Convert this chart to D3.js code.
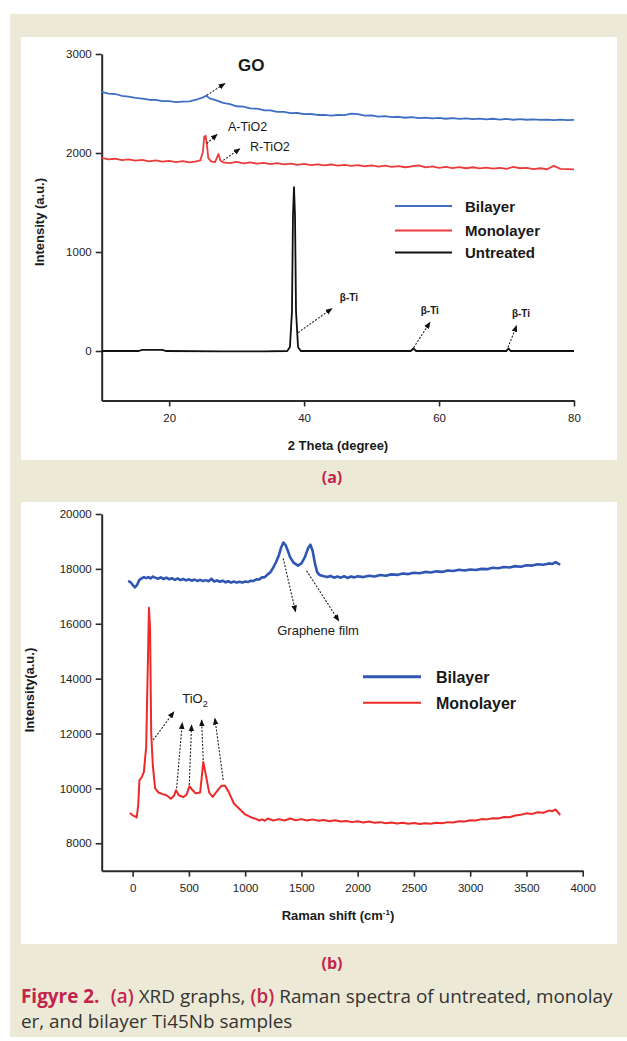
<!DOCTYPE html>
<html>
<head>
<meta charset="utf-8">
<script src="https://cdn.jsdelivr.net/npm/d3@7/dist/d3.min.js"></script>
<style>
  body { margin: 0; background: #fff; }
  svg { display: block; }
</style>
</head>
<body>
<main></main>
<script>
// ---- datos (a) XRD ----
const xrdSeries = ['Bilayer', 'Monolayer', 'Untreated'];
const xrdColors = ['#3d6ec4', '#ec3b3b', '#111111'];

const bilayerXRD = [[10,2618],[11,2600],[12,2596],[13,2578],[14,2570],[15,2556],[16,2550],[17,2538],[18,2536],[19,2524],
  [20,2524],[21,2514],[22,2518],[23,2522],[24,2538],[25,2562],[25.5,2578],[26,2552],[27,2532],[28,2506],[29,2494],
  [30,2472],[31,2468],[32,2450],[33,2448],[34,2432],[35,2430],[36,2416],[37,2416],[38,2402],[39,2404],[40,2392],
  [41,2394],[42,2384],[43,2386],[44,2378],[45,2384],[46,2382],[47,2398],[48,2392],[49,2378],[50,2380],[51,2368],
  [52,2372],[53,2362],[54,2366],[55,2356],[56,2362],[57,2352],[58,2358],[59,2350],[60,2354],[61,2346],[62,2352],
  [63,2344],[64,2350],[65,2342],[66,2348],[67,2340],[68,2346],[69,2338],[70,2344],[71,2336],[72,2342],[73,2336],
  [74,2340],[75,2334],[76,2338],[77,2332],[78,2338],[79,2332],[80,2334]];

const monolayerXRD = [[10,1950],[11,1935],[12,1942],[13,1928],[14,1936],[15,1922],[16,1930],[17,1915],[18,1926],
  [19,1912],[20,1920],[21,1908],[22,1918],[23,1905],[24,1915],[24.6,1925],[25,2010],[25.2,2165],[25.4,2175],
  [25.6,2080],[25.8,1950],[26.2,1915],[26.8,1908],[27.3,1990],[27.6,1925],[28,1905],[29,1898],[30,1910],[31,1895],
  [32,1905],[33,1892],[34,1900],[35,1888],[36,1898],[37,1885],[38,1893],[39,1880],[40,1890],[41,1878],[42,1886],
  [43,1875],[44,1884],[45,1872],[46,1880],[47,1870],[48,1878],[49,1866],[50,1874],[51,1862],[52,1872],[53,1860],
  [54,1868],[55,1856],[56,1866],[57,1874],[58,1854],[59,1864],[60,1850],[61,1860],[62,1848],[63,1858],[64,1846],
  [65,1856],[66,1844],[67,1852],[68,1842],[69,1850],[70,1840],[71,1860],[72,1846],[73,1850],[74,1838],[75,1846],
  [76,1836],[77,1870],[78,1840],[79,1838],[80,1835]];

const untreatedXRD = [[10,0],[15.5,0],[16,12],[19,12],[19.5,0],[28,-4],[34,-4],[37.5,0],[37.9,40],[38.2,400],
  [38.35,1370],[38.5,1655],[38.65,1370],[38.8,400],[39.1,40],[39.5,0],[55.8,0],[56.2,25],[56.6,0],[70,0],
  [70.3,25],[70.6,0],[80,0]];

const xrdXTicks = [20, 40, 60, 80];
const xrdXMinor = [30, 50, 70];
const xrdYTicks = [0, 1000, 2000, 3000];
const xrdYMinor = [500, 1500, 2500];

// etiquetas con flechas: [texto, desde x, desde y, hasta x, hasta y, texto x, texto y]
const xrdNotes = [
  ['GO', 25.56, 2583, 28.27, 2702, 30.2, 2826],
  ['A-TiO2', 25.56, 2095, 27.13, 2189, 28.72, 2219],
  ['R-TiO2', 28.02, 1926, 30.5, 2044, 31.98, 2020],
  ['β-Ti', 39.1, 186, 44.13, 429, 45.3, 510],
  ['β-Ti', 55.95, 4, 58.66, 290, 57.28, 373],
  ['β-Ti', 70.03, 4, 71.5, 257, 70.8, 348]
];

// ---- datos (b) Raman ----
const ramanSeries = ['Bilayer', 'Monolayer'];
const ramanColors = ['#2f56b3', '#ec2a2a'];

const bilayerRaman = [[-40,17560],[-20,17520],[0,17420],[20,17330],[40,17420],[60,17600],[80,17650],[100,17700],
  [120,17660],[140,17700],[160,17650],[180,17720],[200,17680],[225,17640],[250,17690],[275,17630],[300,17680],
  [325,17620],[350,17660],[375,17600],[400,17650],[425,17590],[450,17630],[475,17580],[500,17620],[525,17570],
  [550,17610],[575,17560],[600,17600],[625,17560],[650,17590],[675,17550],[700,17640],[725,17540],[750,17580],
  [775,17530],[800,17570],[825,17510],[850,17550],[875,17500],[900,17540],[925,17500],[950,17530],[975,17500],
  [1000,17540],[1025,17520],[1050,17570],[1075,17560],[1100,17620],[1125,17610],[1150,17690],[1175,17700],
  [1200,17800],[1225,17880],[1250,18050],[1275,18250],[1300,18500],[1320,18780],[1340,18960],[1360,18860],
  [1380,18650],[1400,18420],[1430,18230],[1470,18120],[1500,18200],[1530,18420],[1560,18760],[1580,18880],
  [1600,18650],[1620,18200],[1640,17880],[1660,17780],[1700,17730],[1730,17700],[1760,17740],[1790,17680],
  [1820,17720],[1850,17680],[1880,17730],[1910,17670],[1940,17720],[1970,17690],[2000,17730],[2050,17700],
  [2100,17750],[2150,17720],[2200,17780],[2250,17750],[2300,17800],[2350,17780],[2400,17830],[2450,17810],
  [2500,17860],[2550,17840],[2600,17890],[2650,17870],[2700,17910],[2750,17890],[2800,17940],[2850,17920],
  [2900,17970],[2950,17940],[3000,17980],[3050,17960],[3100,18000],[3150,17990],[3200,18040],[3250,18020],
  [3300,18070],[3350,18050],[3400,18100],[3450,18080],[3500,18130],[3550,18120],[3600,18170],[3650,18150],
  [3700,18200],[3730,18180],[3760,18250],[3800,18150]];

const monolayerRaman = [[-25,9100],[0,9020],[20,8980],[36,8940],[50,9400],[60,10300],[80,10400],[100,10600],
  [120,11500],[135,14500],[145,16580],[155,15800],[165,12000],[180,10800],[200,10000],[230,9850],[260,9800],
  [300,9750],[340,9620],[370,9750],[385,9930],[410,9750],[450,9680],[480,9780],[505,10080],[530,9950],[560,9820],
  [600,9850],[628,10960],[650,10500],[680,9850],[711,9690],[750,9900],[790,10100],[820,10100],[850,9900],
  [900,9450],[950,9250],[1000,9050],[1050,8950],[1100,8880],[1125,8830],[1150,8870],[1175,8820],[1200,8900],
  [1250,8830],[1300,8880],[1350,8830],[1400,8900],[1450,8840],[1500,8880],[1550,8830],[1600,8870],[1650,8820],
  [1700,8850],[1750,8800],[1800,8840],[1850,8790],[1900,8810],[1950,8770],[2000,8800],[2050,8760],[2100,8790],
  [2150,8750],[2200,8770],[2250,8730],[2300,8760],[2350,8720],[2400,8750],[2450,8710],[2500,8740],[2550,8700],
  [2600,8730],[2650,8710],[2700,8750],[2750,8730],[2800,8770],[2850,8760],[2900,8800],[2950,8790],[3000,8840],
  [3050,8830],[3100,8880],[3150,8870],[3200,8910],[3250,8900],[3300,8960],[3350,8950],[3400,9010],[3450,9040],
  [3500,9090],[3550,9070],[3600,9130],[3650,9110],[3700,9190],[3730,9170],[3760,9230],[3800,9030]];

const ramanXTicks = [0, 500, 1000, 1500, 2000, 2500, 3000, 3500, 4000];
const ramanXMinor = [250, 750, 1250, 1750, 2250, 2750, 3250, 3750];
const ramanYTicks = [8000, 10000, 12000, 14000, 16000, 18000, 20000];
const ramanYMinor = [9000, 11000, 13000, 15000, 17000, 19000];

// flechas: [desde x, desde y, hasta x, hasta y]
const grapheneArrows = [[1338, 18385, 1448, 16439], [1546, 17933, 1833, 16100]];
const tioArrows = [[183, 11763, 367, 12794], [391, 10003, 441, 12394], [503, 10123, 524, 12310],
  [627, 11034, 613, 12492], [805, 10305, 731, 12554]];

// pie de figura: [texto, color, peso]
const captionLine1 = [['Figyre 2.', 'c', 'bold'], ['(a)', 'c', '600'], ['XRD graphs,', 'g', 'normal'],
  ['(b)', 'c', '600'], ['Raman spectra of untreated, monolay', 'g', 'normal']];
const captionLine2 = 'er, and bilayer Ti45Nb samples';

// ---- lienzo ----
const w = 627, h = 1041;
const font = "'Liberation Sans', Arial, sans-serif";
const capFont = "'Open Sans', sans-serif";
const crimson = '#c4234b';

const svg = d3.select('main').append('svg')
  .attr('width', w)
  .attr('height', h)
  .style('font-family', font);

svg.append('defs').append('marker')
  .attr('id', 'arr')
  .attr('viewBox', '0 0 10 10')
  .attr('refX', 9).attr('refY', 5)
  .attr('markerWidth', 7).attr('markerHeight', 7)
  .attr('markerUnits', 'userSpaceOnUse')
  .attr('orient', 'auto')
  .append('path').attr('d', 'M0,1 L10,5 L0,9 z').attr('fill', '#111');

svg.append('rect').attr('x', 10).attr('y', 14).attr('width', 617).attr('height', 1023).attr('fill', '#ecead7');
svg.append('rect').attr('x', 21).attr('y', 37).attr('width', 596).attr('height', 423).attr('fill', '#fff');
svg.append('rect').attr('x', 21).attr('y', 502).attr('width', 596).attr('height', 442).attr('fill', '#fff');

// dibuja ejes con marcas mayores y menores
function drawAxes(x, y, opt) {
  const gx = svg.append('g').attr('transform', `translate(0,${y.range()[0]})`);
  gx.call(d3.axisBottom(x).tickValues(opt.xMinor).tickSize(4).tickSizeOuter(0).tickFormat(''));
  gx.call(d3.axisBottom(x).tickValues(opt.xTicks).tickSize(6).tickSizeOuter(0).tickPadding(7).tickFormat(d3.format('d')));
  const gy = svg.append('g').attr('transform', `translate(${x.range()[0]},0)`);
  gy.call(d3.axisLeft(y).tickValues(opt.yMinor).tickSize(4).tickSizeOuter(0).tickFormat(''));
  gy.call(d3.axisLeft(y).tickValues(opt.yTicks).tickSize(6).tickSizeOuter(0).tickPadding(4).tickFormat(d3.format('d')));
  [gx, gy].forEach(g => {
    g.selectAll('path.domain').attr('stroke', '#2a2a2a').attr('stroke-width', 2);
    g.selectAll('line').attr('stroke', '#2a2a2a').attr('stroke-width', 1.6);
    g.selectAll('text').attr('fill', '#222').style('font-size', '11.5px').style('font-family', font);
  });
}

function arrow(x, y, a) {
  svg.append('line')
    .attr('x1', x(a[0])).attr('y1', y(a[1]))
    .attr('x2', x(a[2])).attr('y2', y(a[3]))
    .attr('stroke', '#222')
    .attr('stroke-width', 1.1)
    .attr('stroke-dasharray', '2,1.5')
    .attr('marker-end', 'url(#arr)');
}

// ---------- (a) XRD ----------
const xA = d3.scaleLinear().domain([10, 80]).range([101.7, 574]);
const yA = d3.scaleLinear().domain([-500, 3000]).range([400.5, 54]);

drawAxes(xA, yA, { xTicks: xrdXTicks, xMinor: xrdXMinor, yTicks: xrdYTicks, yMinor: xrdYMinor });

const lineA = d3.line().x(d => xA(d[0])).y(d => yA(d[1]));
[untreatedXRD, monolayerXRD, bilayerXRD].forEach((s, i) => {
  svg.append('path')
    .datum(s)
    .attr('d', lineA)
    .attr('fill', 'none')
    .attr('stroke', xrdColors[2 - i])
    .attr('stroke-width', 1.8)
    .attr('stroke-linejoin', 'round');
});

xrdNotes.forEach(n => {
  arrow(xA, yA, n.slice(1, 5));
  const big = n[0] === 'GO';
  const small = n[0] === 'β-Ti';
  svg.append('text')
    .attr('x', xA(n[5])).attr('y', yA(n[6]))
    .attr('fill', '#1a1a1a')
    .style('font-size', big ? '17px' : small ? '10px' : '12.5px')
    .style('font-weight', big || small ? 'bold' : 'normal')
    .text(n[0]);
});

const legA = svg.append('g').attr('transform', 'translate(395,206)');
xrdSeries.forEach((s, i) => {
  const g = legA.append('g').attr('transform', `translate(0,${[0, 24.5, 46.5][i]})`);
  g.append('line').attr('x1', 0).attr('x2', 57).attr('stroke', xrdColors[i]).attr('stroke-width', 2);
  g.append('text').attr('x', 70).attr('y', 5.5).style('font-size', '15px').style('font-weight', 'bold')
    .attr('fill', '#1a1a1a').text(s);
});

svg.append('text').attr('x', 338).attr('y', 450).attr('text-anchor', 'middle')
  .style('font-size', '13px').style('font-weight', 'bold').attr('fill', '#1a1a1a').text('2 Theta (degree)');
svg.append('text').attr('transform', 'translate(44,222) rotate(-90)').attr('text-anchor', 'middle')
  .style('font-size', '13px').style('font-weight', 'bold').attr('fill', '#1a1a1a').text('Intensity (a.u.)');

// ---------- (b) Raman ----------
const xB = d3.scaleLinear().domain([-275, 4000]).range([101.7, 582.7]);
const yB = d3.scaleLinear().domain([7000, 20000]).range([870.7, 514]);

drawAxes(xB, yB, { xTicks: ramanXTicks, xMinor: ramanXMinor, yTicks: ramanYTicks, yMinor: ramanYMinor });

const lineB = d3.line().x(d => xB(d[0])).y(d => yB(d[1]));
svg.append('path').datum(monolayerRaman).attr('d', lineB).attr('fill', 'none')
  .attr('stroke', ramanColors[1]).attr('stroke-width', 2).attr('stroke-linejoin', 'round');
svg.append('path').datum(bilayerRaman).attr('d', lineB).attr('fill', 'none')
  .attr('stroke', ramanColors[0]).attr('stroke-width', 2.6).attr('stroke-linejoin', 'round');

grapheneArrows.forEach(a => arrow(xB, yB, a));
tioArrows.forEach(a => arrow(xB, yB, a));

svg.append('text').attr('x', xB(1285)).attr('y', yB(15608)).style('font-size', '13px')
  .attr('fill', '#1a1a1a').text('Graphene film');
const tio = svg.append('text').attr('x', xB(441)).attr('y', yB(13111)).style('font-size', '13px')
  .attr('fill', '#1a1a1a');
tio.append('tspan').text('TiO');
tio.append('tspan').attr('dy', 4).style('font-size', '9px').text('2');

const legB = svg.append('g').attr('transform', 'translate(363,676.7)');
ramanSeries.forEach((s, i) => {
  const g = legB.append('g').attr('transform', `translate(0,${i * 26})`);
  g.append('line').attr('x1', 0).attr('x2', 58).attr('stroke', ramanColors[i]).attr('stroke-width', i ? 2 : 3);
  g.append('text').attr('x', 73).attr('y', 6).style('font-size', '16px').style('font-weight', 'bold')
    .attr('fill', '#1a1a1a').text(s);
});

const xlab = svg.append('text').attr('x', 338).attr('y', 920).attr('text-anchor', 'middle')
  .style('font-size', '13px').style('font-weight', 'bold').attr('fill', '#1a1a1a');
xlab.append('tspan').text('Raman shift (cm');
xlab.append('tspan').attr('dy', -5).style('font-size', '8px').text('-1');
xlab.append('tspan').attr('dy', 5).text(')');
svg.append('text').attr('transform', 'translate(34,690) rotate(-90)').attr('text-anchor', 'middle')
  .style('font-size', '13px').style('font-weight', 'bold').attr('fill', '#1a1a1a').text('Intensity(a.u.)');

// ---------- rótulos y pie ----------
[['(a)', 483], ['(b)', 969]].forEach(l => {
  svg.append('text').attr('x', 332).attr('y', l[1]).attr('text-anchor', 'middle')
    .style('font-family', capFont).style('font-size', '16px').style('font-weight', 'bold')
    .attr('fill', crimson).text(l[0]);
});

// primera línea: cada trozo es un texto aparte, colocado uno tras otro
const gaps = [0, 9, 4, 4, 4];
const capParts = captionLine1.map(c => svg.append('text').attr('y', 1003)
  .style('font-family', capFont).style('font-weight', c[2])
  .attr('fill', c[1] === 'c' ? crimson : '#333').text(c[0]));
const line2 = svg.append('text').attr('x', 21).attr('y', 1028)
  .style('font-family', capFont).attr('fill', '#333').text(captionLine2);

function layoutCaption(size) {
  let cx = 21;
  capParts.forEach((t, i) => {
    cx += gaps[i] * size / 15;
    t.style('font-size', size + 'px').attr('x', cx);
    cx += t.node().getComputedTextLength();
  });
  line2.style('font-size', size + 'px');
  return cx - 21;
}
// ajusta el tamaño para que la primera línea llegue casi al borde como en el original
const firstWidth = layoutCaption(15);
layoutCaption(15 * 592 / firstWidth);
</script>
</body>
</html>
